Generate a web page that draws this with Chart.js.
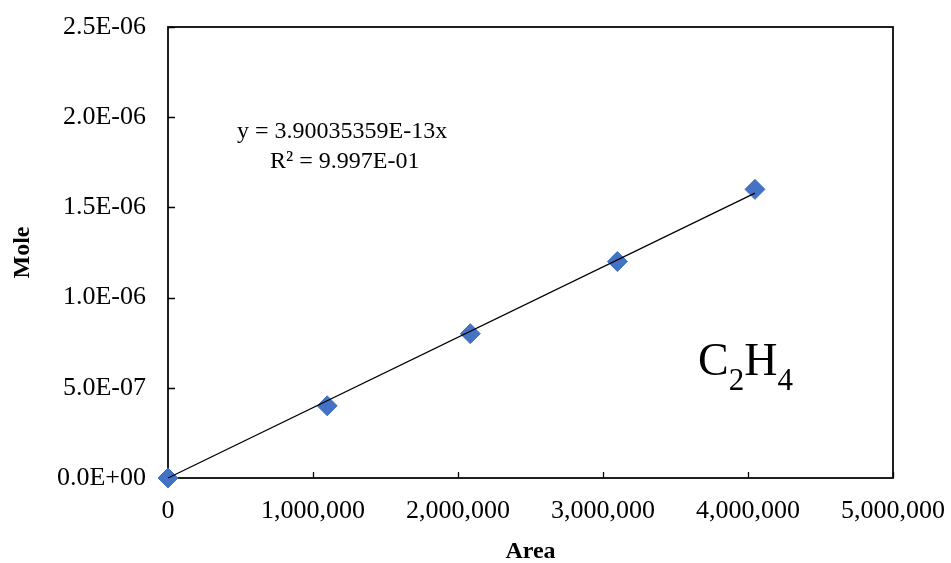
<!DOCTYPE html>
<html>
<head>
<meta charset="utf-8">
<script src="https://cdn.jsdelivr.net/npm/chart.js@4"></script>
<style>
  html, body { margin: 0; padding: 0; background: #fff; }
  #wrap { width: 951px; height: 563px; position: relative; }
</style>
</head>
<body>
<div id="wrap"><canvas id="c" width="951" height="563"></canvas></div>
<script>
// ---- data ----
const areaValues = [0, 1098000, 2085000, 3099000, 4048000];
const moleValues = [0, 4.0e-7, 8.0e-7, 1.2e-6, 1.6e-6];
const trendSlope = 3.90035359e-13;
const equationLines = ['y = 3.90035359E-13x', 'R\u00B2 = 9.997E-01'];
const xTickValues = [0, 1000000, 2000000, 3000000, 4000000, 5000000];
const yTickValues = [0, 5e-7, 1e-6, 1.5e-6, 2e-6, 2.5e-6];
const xTitle = 'Area';
const yTitle = 'Mole';

const FONT = "'Liberation Serif', 'Times New Roman', serif";

const points = areaValues.map((x, i) => ({ x: x, y: moleValues[i] }));
const xMin = Math.min(...areaValues), xMax = Math.max(...areaValues);
const trend = [{ x: xMin, y: trendSlope * xMin }, { x: xMax, y: trendSlope * xMax }];

function sci(v) {
  if (Math.abs(v) < 1e-20) return '0.0E+00';
  let [m, e] = v.toExponential(1).split('e');
  let ei = parseInt(e, 10);
  const sign = ei < 0 ? '-' : '+';
  ei = Math.abs(ei);
  return m + 'E' + sign + (ei < 10 ? '0' + ei : '' + ei);
}

const framePlugin = {
  id: 'frame',
  beforeDatasetsDraw(chart) {
    const { ctx, chartArea: a, scales } = chart;
    ctx.save();
    ctx.strokeStyle = '#000';
    ctx.lineWidth = 1.75;
    ctx.strokeRect(a.left, a.top, a.right - a.left, a.bottom - a.top);
    ctx.lineWidth = 1.3;
    ctx.beginPath();
    yTickValues.forEach(v => {
      const y = Math.round(scales.y.getPixelForValue(v)) + 0.5;
      ctx.moveTo(a.left, y); ctx.lineTo(a.left + 7, y);
    });
    xTickValues.forEach(v => {
      const x = Math.round(scales.x.getPixelForValue(v)) + 0.5;
      ctx.moveTo(x, a.bottom); ctx.lineTo(x, a.bottom - 6);
    });
    ctx.stroke();
    ctx.restore();
  },
  afterDraw(chart) {
    const { ctx } = chart;
    ctx.save();
    // trendline equation
    ctx.fillStyle = '#000';
    ctx.textBaseline = 'alphabetic';
    ctx.textAlign = 'left';
    ctx.font = '24px ' + FONT;
    ctx.fillText(equationLines[0], 237, 138);
    ctx.fillText(equationLines[1], 270, 168);

    // C2H4 label
    let x = 698;
    const base = 375;
    ctx.font = '46px ' + FONT;
    ctx.fillText('C', x, base); x += ctx.measureText('C').width;
    ctx.font = '31px ' + FONT;
    ctx.fillText('2', x, base + 15); x += ctx.measureText('2').width;
    ctx.font = '46px ' + FONT;
    ctx.fillText('H', x, base); x += ctx.measureText('H').width;
    ctx.font = '31px ' + FONT;
    ctx.fillText('4', x, base + 15);
    ctx.restore();
  }
};

new Chart(document.getElementById('c'), {
  type: 'scatter',
  data: {
    datasets: [
      {
        label: 'Trendline',
        data: trend,
        showLine: true,
        borderColor: '#000',
        borderWidth: 1.3,
        pointRadius: 0,
        pointHoverRadius: 0,
        fill: false,
        clip: false,
        order: 1
      },
      {
        label: 'C2H4',
        data: points,
        pointStyle: 'rectRot',
        pointRadius: 10,
        pointHoverRadius: 10,
        backgroundColor: '#4472C4',
        borderColor: '#4472C4',
        borderWidth: 1,
        clip: false,
        order: 2
      }
    ]
  },
  options: {
    responsive: false,
    animation: false,
    events: [],
    layout: { padding: { left: 0, right: 58, top: 27, bottom: 0 } },
    plugins: { legend: { display: false }, tooltip: { enabled: false } },
    scales: {
      x: {
        type: 'linear',
        min: 0, max: 5000000,
        afterFit(s) { s.height = 85; s.paddingLeft = 0; s.paddingRight = 0; },
        afterBuildTicks(s) { s.ticks = xTickValues.map(v => ({ value: v })); },
        grid: { display: false, drawTicks: false },
        border: { display: false },
        ticks: {
          padding: 18,
          color: '#000',
          font: { family: FONT, size: 26 },
          maxRotation: 0,
          callback: v => v.toLocaleString('en-US')
        },
        title: {
          display: true, text: xTitle, color: '#000',
          font: { family: FONT, size: 24, weight: 'bold' },
          padding: { top: 0, bottom: -3 }
        }
      },
      y: {
        type: 'linear',
        min: 0, max: 2.5e-6,
        afterFit(s) { s.width = 168; s.paddingTop = 0; s.paddingBottom = 0; },
        afterBuildTicks(s) { s.ticks = yTickValues.map(v => ({ value: v })); },
        grid: { display: false, drawTicks: false },
        border: { display: false },
        ticks: {
          padding: 22,
          color: '#000',
          font: { family: FONT, size: 26 },
          callback: v => sci(v)
        },
        title: {
          display: true, text: yTitle, color: '#000',
          font: { family: FONT, size: 24, weight: 'bold' },
          padding: { top: 8, bottom: 0 }
        }
      }
    }
  },
  plugins: [framePlugin]
});
</script>
</body>
</html>
